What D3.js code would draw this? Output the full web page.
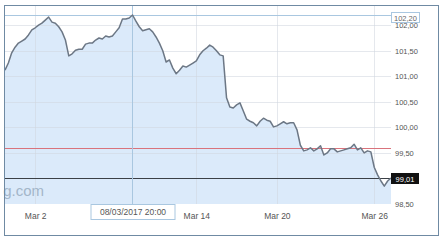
<!DOCTYPE html>
<html>
<head>
<meta charset="utf-8">
<script src="https://cdn.jsdelivr.net/npm/d3@7"></script>
<style>
  html, body { margin: 0; padding: 0; background: #fff; }
  svg { display: block; font-family: "Liberation Sans", Arial, sans-serif; }
</style>
</head>
<body>
<svg id="chart" width="446" height="243"></svg>
<script>
// 4 hour bars, trading days only, first bar = 28/02/2017 12:00
var values = [
  101.12, 101.26, 101.46, 101.57, 101.65, 101.69, 101.73, 101.81, 101.91, 101.95,
  102.00, 102.04, 102.10, 102.16, 102.06, 102.04, 101.97, 101.87, 101.71, 101.40,
  101.44, 101.51, 101.53, 101.53, 101.63, 101.65, 101.65, 101.71, 101.75, 101.73,
  101.79, 101.77, 101.79, 101.87, 101.95, 102.12, 102.12, 102.14, 102.20, 102.08,
  101.97, 101.89, 101.91, 101.93, 101.87, 101.77, 101.65, 101.50, 101.28, 101.32,
  101.16, 101.05, 101.12, 101.20, 101.18, 101.22, 101.26, 101.30, 101.42, 101.50,
  101.55, 101.61, 101.57, 101.50, 101.42, 101.40, 100.58, 100.40, 100.38, 100.44,
  100.48, 100.32, 100.16, 100.12, 100.09, 100.03, 100.12, 100.18, 100.14, 100.12,
  100.01, 100.03, 100.07, 100.11, 100.07, 100.09, 100.09, 99.95, 99.65, 99.54,
  99.56, 99.60, 99.54, 99.58, 99.64, 99.46, 99.50, 99.58, 99.58, 99.52,
  99.54, 99.56, 99.58, 99.60, 99.67, 99.56, 99.60, 99.50, 99.54, 99.52,
  99.22, 99.07, 98.95, 98.85, 98.95, 99.01
];

var xTickLabels = ["Mar 2", "Mar 14", "Mar 20", "Mar 26"];
var xTickBars = [9, 57, 81, 110];

var yTickValues = [98.5, 99.0, 99.5, 100.0, 100.5, 101.0, 101.5, 102.0];

var refLevel = 99.60;            // red reference line
var lastValue = values[values.length - 1];
var crossBar = 38;               // hovered bar
var crossLabel = "08/03/2017 20:00";

var plot = { left: 4, right: 391, top: 5, bottom: 204 };

var svg = d3.select("#chart");

var x = d3.scaleLinear()
  .domain([0, values.length - 1])
  .range([plot.left + 1, plot.right]);

var y = d3.scaleLinear()
  .domain([98.5, 102.2])
  .range([plot.bottom, 15]);

var fmt = function(v) {
  return d3.format(".2f")(v).replace(".", ",");
};

// area fill
var area = d3.area()
  .x(function(d, i) { return x(i); })
  .y0(plot.bottom)
  .y1(function(d) { return y(d); });

svg.append("path")
  .datum(values)
  .attr("d", area)
  .attr("fill", "#dbeafa");

// grid
var grid = svg.append("g").attr("stroke", "#cfd6de").attr("stroke-opacity", 0.55).attr("stroke-width", 1);

grid.selectAll(".hg")
  .data(yTickValues)
  .enter().append("line")
  .attr("x1", plot.left)
  .attr("x2", plot.right)
  .attr("y1", function(d) { return Math.round(y(d)) + 0.5; })
  .attr("y2", function(d) { return Math.round(y(d)) + 0.5; });

grid.selectAll(".vg")
  .data(xTickBars)
  .enter().append("line")
  .attr("x1", function(d) { return Math.round(x(d)) + 0.5; })
  .attr("x2", function(d) { return Math.round(x(d)) + 0.5; })
  .attr("y1", plot.top)
  .attr("y2", plot.bottom);

// red reference line
svg.append("line")
  .attr("x1", plot.left).attr("x2", plot.right)
  .attr("y1", Math.round(y(refLevel)) + 0.5).attr("y2", Math.round(y(refLevel)) + 0.5)
  .attr("stroke", "#d9737c").attr("stroke-width", 1);

// current price line
svg.append("line")
  .attr("x1", plot.left).attr("x2", plot.right)
  .attr("y1", Math.round(y(lastValue)) + 0.5).attr("y2", Math.round(y(lastValue)) + 0.5)
  .attr("stroke", "#3b4046").attr("stroke-width", 1.2);

// crosshair
var cx = Math.round(x(crossBar)) - 0.5;
var cy = Math.round(y(values[crossBar])) + 0.5;
svg.append("line")
  .attr("x1", cx).attr("x2", cx)
  .attr("y1", plot.top).attr("y2", plot.bottom)
  .attr("stroke", "#a9c7e0").attr("stroke-width", 1);
svg.append("line")
  .attr("x1", plot.left).attr("x2", plot.right)
  .attr("y1", cy).attr("y2", cy)
  .attr("stroke", "#a9c7e0").attr("stroke-width", 1);

// watermark, cut at the left edge like the original
svg.append("text")
  .attr("x", 44).attr("y", 196)
  .attr("text-anchor", "end")
  .attr("font-size", 15)
  .attr("fill", "#a3b6c9")
  .text("g.com");

// price line
var line = d3.line()
  .x(function(d, i) { return x(i); })
  .y(function(d) { return y(d); });

svg.append("path")
  .datum(values)
  .attr("d", line)
  .attr("fill", "none")
  .attr("stroke", "#6c7785")
  .attr("stroke-width", 1.5)
  .attr("stroke-linejoin", "round");

// white band under the plot for the x axis
svg.append("rect")
  .attr("x", 0).attr("y", plot.bottom)
  .attr("width", 446).attr("height", 243 - plot.bottom)
  .attr("fill", "#fff");
svg.append("rect")
  .attr("x", plot.right).attr("y", 0)
  .attr("width", 446 - plot.right).attr("height", plot.bottom)
  .attr("fill", "#fff");

// y axis (labels hidden where the highlight boxes sit)
var boxed = [values[crossBar], lastValue];
var yAxis = d3.axisRight(y)
  .tickValues(yTickValues.filter(function(v) {
    return boxed.every(function(b) { return Math.abs(y(v) - y(b)) > 10; });
  }))
  .tickSize(0)
  .tickPadding(0)
  .tickFormat(fmt);

svg.append("g")
  .attr("transform", "translate(395,0)")
  .call(yAxis)
  .call(function(g) { g.select(".domain").remove(); })
  .selectAll("text")
  .attr("font-size", 7.5)
  .attr("font-family", "Liberation Sans, Arial, sans-serif")
  .attr("fill", "#555");

// x axis
var xAxis = d3.axisBottom(x)
  .tickValues(xTickBars)
  .tickSize(0)
  .tickPadding(0)
  .tickFormat(function(d, i) { return xTickLabels[i]; });

svg.append("g")
  .attr("transform", "translate(0,213)")
  .call(xAxis)
  .call(function(g) { g.select(".domain").remove(); })
  .selectAll("text")
  .attr("font-size", 8.5)
  .attr("font-family", "Liberation Sans, Arial, sans-serif")
  .attr("fill", "#555");

// highlight box for the hovered value
var hb = svg.append("g").attr("transform", "translate(391," + (cy - 3.5) + ")");
hb.append("rect")
  .attr("x", 0.5).attr("y", 0.5).attr("width", 28).attr("height", 10)
  .attr("fill", "#fff").attr("stroke", "#a9c7e0");
hb.append("text")
  .attr("x", 14.5).attr("y", 8.5).attr("text-anchor", "middle")
  .attr("font-size", 7.5).attr("fill", "#666")
  .text(fmt(values[crossBar]));

// box for the last value
var lb = svg.append("g").attr("transform", "translate(391," + (Math.round(y(lastValue)) - 5) + ")");
lb.append("rect")
  .attr("x", 0).attr("y", 0).attr("width", 28).attr("height", 11)
  .attr("fill", "#111");
lb.append("text")
  .attr("x", 14).attr("y", 8.5).attr("text-anchor", "middle")
  .attr("font-size", 7.5).attr("fill", "#fff")
  .text(fmt(lastValue));

// date label under the crosshair
var db = svg.append("g").attr("transform", "translate(" + (cx - 42) + ",204)");
db.append("rect")
  .attr("x", 0.5).attr("y", 0.5).attr("width", 84).attr("height", 15)
  .attr("fill", "#fff").attr("stroke", "#a9c7e0");
db.append("text")
  .attr("x", 42.5).attr("y", 11).attr("text-anchor", "middle")
  .attr("font-size", 8.5).attr("fill", "#555")
  .text(crossLabel);

// outer frame
svg.append("rect")
  .attr("x", 4.5).attr("y", 5.5)
  .attr("width", 434).attr("height", 230)
  .attr("fill", "none")
  .attr("stroke", "#6f8aa3")
  .attr("stroke-width", 1);
</script>
</body>
</html>
